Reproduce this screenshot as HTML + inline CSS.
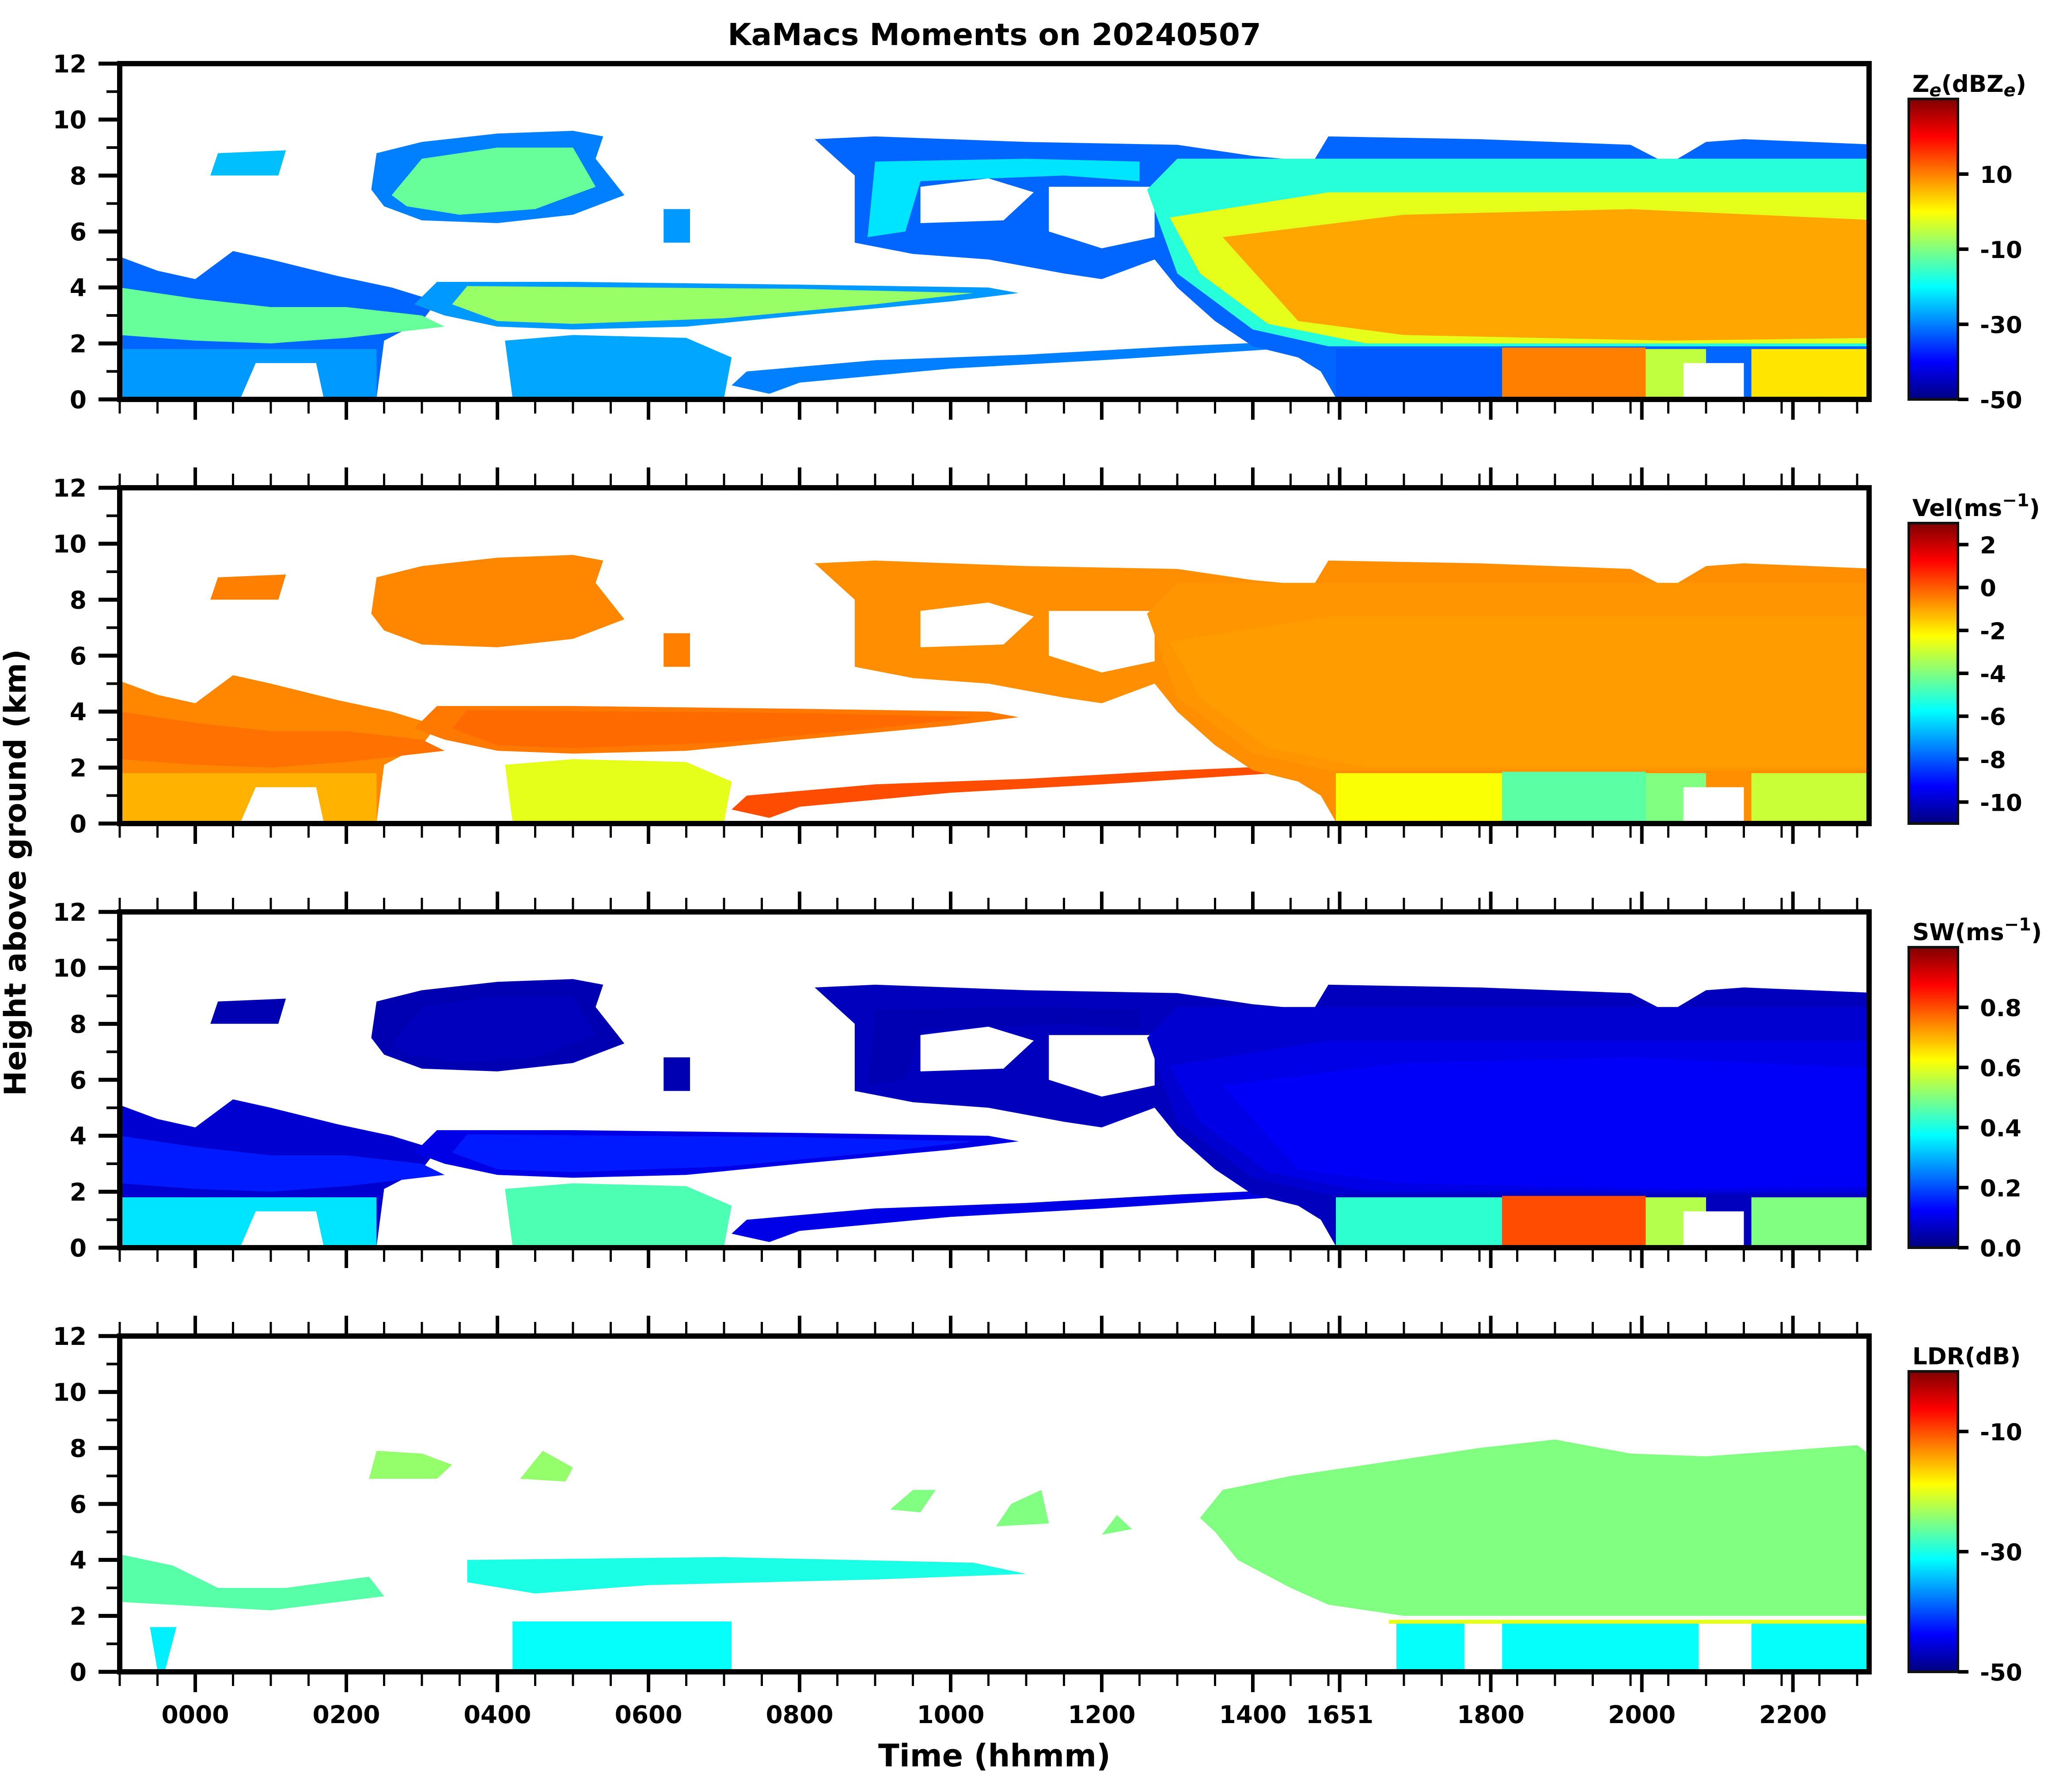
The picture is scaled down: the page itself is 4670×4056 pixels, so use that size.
<!DOCTYPE html>
<html><head><meta charset="utf-8"><style>
html,body{margin:0;padding:0;background:#fff;}
svg{display:block;}
text{font-family:"DejaVu Sans","Liberation Sans",sans-serif;font-weight:bold;fill:#000;}
</style></head><body>
<svg id="fig" xmlns="http://www.w3.org/2000/svg" width="4670" height="4056" viewBox="0 0 4670 4056">
<defs id="defs"></defs>
<text x="2251" y="102" font-size="69" text-anchor="middle">KaMacs Moments on 20240507</text>
<text x="2251" y="3998" font-size="70" text-anchor="middle">Time (hhmm)</text>
<text x="0" y="0" font-size="68" text-anchor="middle" transform="translate(58,1975) rotate(-90)">Height above ground (km)</text>
<g id="layer"></g>
</svg>
<script>
// ---- data ----
const majorTickHours = [0,2,4,6,8,10,12,14,15.15,17.15,19.15,21.15];
const majorTickLabels = ["0000","0200","0400","0600","0800","1000","1200","1400","1651","1800","2000","2200"];
const minorTickStartHour = -1;
const minorTickStepHour = 0.5;
const minorTickCount = 47;
const heightTicks = [0,2,4,6,8,10,12];
const heightMinorTicks = [1,3,5,7,9,11];
const cbRanges = [[-50,30],[-11,3],[0,1],[-50,0]];
const cbTicks = [[10,-10,-30,-50],[2,0,-2,-4,-6,-8,-10],[0.0,0.2,0.4,0.6,0.8],[-10,-30,-50]];
const cbTickLabels = [["10","-10","-30","-50"],["2","0","-2","-4","-6","-8","-10"],["0.0","0.2","0.4","0.6","0.8"],["-10","-30","-50"]];
const shapePts = [
 [[-1,5.1],[-0.5,4.6],[0,4.3],[0.5,5.3],[1,5.0],[1.9,4.4],[2.6,4.0],[3.2,3.5],[3.0,2.8],[2.5,2.1],[2.4,0.05],[1.7,0.05],[1.6,1.5],[0.8,1.5],[0.6,0.05],[-1,0.05]],
 [[-1,2.3],[-1,4.0],[0,3.6],[1,3.3],[2,3.3],[3,3.0],[3.3,2.6],[2,2.2],[1,2.0],[0,2.1]],
 [[-1,0.05],[-1,1.8],[2.4,1.8],[2.4,0.05],[1.7,0.05],[1.6,1.3],[0.8,1.3],[0.6,0.05]],
 [[0.2,8.0],[0.3,8.8],[1.2,8.9],[1.1,8.0]],
 [[2.33,7.5],[2.4,8.8],[3,9.2],[4,9.5],[5,9.6],[5.4,9.4],[5.3,8.6],[5.68,7.3],[5,6.6],[4,6.3],[3,6.4],[2.5,6.9]],
 [[2.6,7.3],[3,8.6],[4,9.0],[5,9.0],[5.3,7.6],[4.5,6.8],[3.5,6.6],[2.8,6.9]],
 [[6.2,5.6],[6.2,6.8],[6.55,6.8],[6.55,5.6]],
 [[2.9,3.4],[3.2,4.2],[5,4.2],[8,4.1],[10.5,4.0],[10.9,3.8],[10,3.5],[8,3.0],[6.5,2.6],[5,2.5],[4,2.6],[3.3,3.0]],
 [[3.4,3.4],[3.6,4.05],[8,3.95],[10.3,3.8],[9,3.4],[7,2.9],[5,2.7],[4,2.8]],
 [[4.2,0.05],[4.1,2.1],[5,2.3],[6.5,2.2],[7.1,1.5],[7.0,0.05]],
 [[7.1,0.5],[7.3,1.0],[9,1.4],[11,1.6],[13,1.9],[14.3,2.05],[14.3,1.8],[12,1.4],[10,1.1],[8,0.6],[7.6,0.2]],
 [[8.73,5.6],[8.73,8.0],[8.2,9.3],[9,9.4],[10,9.3],[11,9.2],[13,9.1],[14,8.7],[14.8,8.5],[15,9.4],[17,9.3],[19,9.1],[19.5,8.4],[20.0,9.2],[20.5,9.3],[22.3,9.1],[22.3,0.05],[15.1,0.05],[14.9,1.0],[14.6,1.5],[14.0,1.9],[13.5,2.8],[13,4.0],[12.7,5.0],[12.0,4.3],[11.5,4.5],[10.5,5.0],[9.5,5.2]],
 [[8.9,5.8],[9.0,8.5],[11,8.6],[12.5,8.5],[12.5,7.8],[11.5,8.0],[9.6,7.8],[9.4,6.0]],
 [[9.6,6.3],[9.6,7.6],[10.5,7.9],[11.1,7.4],[10.7,6.4]],
 [[11.3,6.0],[11.3,7.6],[12.7,7.6],[12.7,5.8],[12.0,5.4]],
 [[12.6,7.5],[13,8.6],[15,8.6],[22.3,8.6],[22.3,1.9],[15,1.9],[14,2.5],[13,4.5]],
 [[12.9,6.5],[15,7.4],[22.3,7.4],[22.3,2.0],[15.5,2.0],[14.2,2.7],[13.3,4.5]],
 [[13.6,5.8],[16,6.6],[19,6.8],[22.3,6.4],[22.3,2.2],[19.5,2.1],[16,2.3],[14.6,2.8]],
 [[15.1,0.05],[15.1,1.8],[17.3,1.8],[17.3,0.05]],
 [[17.3,0.05],[17.3,1.85],[19.2,1.85],[19.2,0.05]],
 [[19.2,0.05],[19.2,1.8],[20.0,1.8],[20.0,0.05]],
 [[19.7,0.05],[19.7,1.3],[20.5,1.3],[20.5,0.05]],
 [[20.6,0.05],[20.6,1.8],[22.3,1.8],[22.3,0.05]]
];
const zeValues  = [-32,-12,-28,-25,-30,-12,-28,-28,-8,-27,-30,-32,-22,null,null,-17,-2,7,-33,10,-5,null,2];
const velValues = [-0.6,-0.3,-1.2,-0.5,-0.6,-0.6,-0.5,-0.4,-0.2,-2.6,0.2,-0.7,-0.7,null,null,-0.8,-0.9,-0.9,-2.3,-4.5,-4,null,-3];
const swValues  = [0.08,0.15,0.35,0.05,0.05,0.06,0.05,0.1,0.15,0.45,0.1,0.06,0.05,null,null,0.08,0.1,0.12,0.42,0.8,0.55,null,0.5];
const ldrPts = [
 [[13.3,5.5],[13.6,6.5],[14.5,7.0],[16,7.6],[17,8.0],[18,8.3],[19,7.8],[20,7.7],[21,7.9],[22,8.1],[22.3,7.5],[22.3,2.0],[18,2.0],[16,2.0],[15,2.4],[14.5,3.0],[13.8,4.0],[13.5,5.0]],
 [[2.3,6.9],[2.4,7.9],[3.0,7.8],[3.4,7.4],[3.2,6.9]],
 [[4.3,6.9],[4.6,7.9],[5.0,7.3],[4.9,6.8]],
 [[9.2,5.8],[9.5,6.5],[9.8,6.5],[9.6,5.7]],
 [[10.6,5.2],[10.8,6.0],[11.2,6.5],[11.3,5.3]],
 [[12.0,4.9],[12.2,5.6],[12.4,5.1]],
 [[3.6,3.2],[3.6,4.0],[7,4.1],[10.3,3.9],[11,3.5],[9,3.3],[6,3.1],[4.5,2.8]],
 [[4.2,0.05],[4.2,1.8],[7.1,1.8],[7.1,0.05]],
 [[15.9,0.05],[15.9,1.8],[16.8,1.8],[16.8,0.05]],
 [[17.3,0.05],[17.3,1.8],[19.9,1.8],[19.9,0.05]],
 [[20.6,0.05],[20.6,1.8],[22.3,1.8],[22.3,0.05]],
 [[-1,2.5],[-1,4.2],[-0.3,3.8],[0.3,3.0],[1.2,3.0],[2.3,3.4],[2.5,2.7],[1,2.2]],
 [[-0.5,0.05],[-0.6,1.6],[-0.25,1.6],[-0.4,0.05]],
 [[15.8,1.72],[15.8,1.86],[22.3,1.86],[22.3,1.72]]
];
const ldrValues = [-25,-24,-24,-25,-25,-25,-30,-31,-31,-31,-31,-27,-32,-20];
const cbTitles = ["Z<tspan font-size='40' dy='10' font-style='italic'>e</tspan><tspan dy='-10'>(dBZ</tspan><tspan font-size='40' dy='10' font-style='italic'>e</tspan><tspan dy='-10'>)</tspan>",
 "Vel(ms<tspan font-size='40' dy='-22'>−1</tspan><tspan dy='22'>)</tspan>",
 "SW(ms<tspan font-size='40' dy='-22'>−1</tspan><tspan dy='22'>)</tspan>",
 "LDR(dB)"];
const cbNames = ["ze","vel","sw","ldr"];

// ---- layout ----
const NS="http://www.w3.org/2000/svg";
const panelTops=[144,1104,2064,3024], PH=760, X0=271, X1=4231;
const CBX0=4321, CBX1=4432;
function xs(t){return 442+171*t;}
function ys(p,h){return panelTops[p]+PH*(1-h/12);}
function jet(x){x=Math.max(0,Math.min(1,x));const c=v=>Math.round(255*Math.max(0,Math.min(1,v)));
 return `rgb(${c(1.5-Math.abs(4*x-3))},${c(1.5-Math.abs(4*x-2))},${c(1.5-Math.abs(4*x-1))})`;}
function mk(tag,attrs,parent){const e=document.createElementNS(NS,tag);for(const k in attrs)e.setAttribute(k,attrs[k]);parent.appendChild(e);return e;}
const layer=document.getElementById('layer'), defs=document.getElementById('defs');

const grad=mk('linearGradient',{id:'jetg',x1:0,y1:1,x2:0,y2:0},defs);
for(let k=0;k<=8;k++) mk('stop',{offset:k/8,'stop-color':jet(k/8)},grad);

function drawShapes(p,ptsList,vals){
 const [lo,hi]=cbRanges[p];
 const g=mk('g',{'clip-path':`url(#clip${p})`},layer);
 
 
 ptsList.forEach((pts,i)=>{
  const v=vals[i];
  const fill = v===null ? '#ffffff' : jet((v-lo)/(hi-lo));
  const poly=mk('polygon',{points:pts.map(q=>xs(q[0]).toFixed(1)+','+ys(p,q[1]).toFixed(1)).join(' '),fill:fill},g);
  
  
 });
}

for(let p=0;p<4;p++){
 const top=panelTops[p], bot=top+PH;
 const cp=mk('clipPath',{id:'clip'+p},defs);
 mk('rect',{x:X0,y:top,width:X1-X0,height:PH},cp);
 if(p===0) drawShapes(0,shapePts,zeValues);
 if(p===1) drawShapes(1,shapePts,velValues);
 if(p===2) drawShapes(2,shapePts,swValues);
 if(p===3) drawShapes(3,ldrPts,ldrValues);
 const box=mk('rect',{x:X0,y:top,width:X1-X0,height:PH,fill:'none',stroke:'#000','stroke-width':12},layer);
 
 
 heightTicks.forEach(h=>{
  const y=ys(p,h);
  mk('line',{x1:X0-48,x2:X0,y1:y,y2:y,stroke:'#000','stroke-width':9},layer);
  const t=mk('text',{x:196,y:y+20,'font-size':55,'text-anchor':'end'},layer);
  t.textContent=h;
  
  
 });
 heightMinorTicks.forEach(h=>{const y=ys(p,h);mk('line',{x1:X0-30,x2:X0,y1:y,y2:y,stroke:'#000','stroke-width':6},layer);});
 majorTickHours.forEach(t=>{const x=xs(t);mk('line',{x1:x,x2:x,y1:bot,y2:bot+46,stroke:'#000','stroke-width':8},layer);
  if(p>0) mk('line',{x1:x,x2:x,y1:top,y2:top-46,stroke:'#000','stroke-width':8},layer);});
 for(let k=0;k<minorTickCount;k++){const x=xs(minorTickStartHour+k*minorTickStepHour);
  mk('line',{x1:x,x2:x,y1:bot,y2:bot+32,stroke:'#000','stroke-width':5},layer);
  if(p>0) mk('line',{x1:x,x2:x,y1:top,y2:top-32,stroke:'#000','stroke-width':5},layer);}
 const [lo,hi]=cbRanges[p]; const cbTop=top+80;
 const cby=v=>bot-(v-lo)/(hi-lo)*(bot-cbTop);
 const cb=mk('rect',{x:CBX0,y:cbTop,width:CBX1-CBX0,height:bot-cbTop,fill:'url(#jetg)',stroke:'#111','stroke-width':6},layer);
 
 
 cbTicks[p].forEach((v,i)=>{const y=cby(v);
  mk('line',{x1:CBX1,x2:CBX1+24,y1:y,y2:y,stroke:'#000','stroke-width':8},layer);
  const t=mk('text',{x:4482,y:y+20,'font-size':53},layer);t.textContent=cbTickLabels[p][i];
  
  
 });
 const ct=mk('text',{x:CBX0+8,y:cbTop-16,'font-size':53},layer);
 ct.innerHTML=cbTitles[p];
 
 
}
majorTickHours.forEach((t,i)=>{
 const tx=mk('text',{x:xs(t),y:3900,'font-size':55,'text-anchor':'middle'},layer);
 tx.textContent=majorTickLabels[i];
 
 
});
</script>
</body></html>
